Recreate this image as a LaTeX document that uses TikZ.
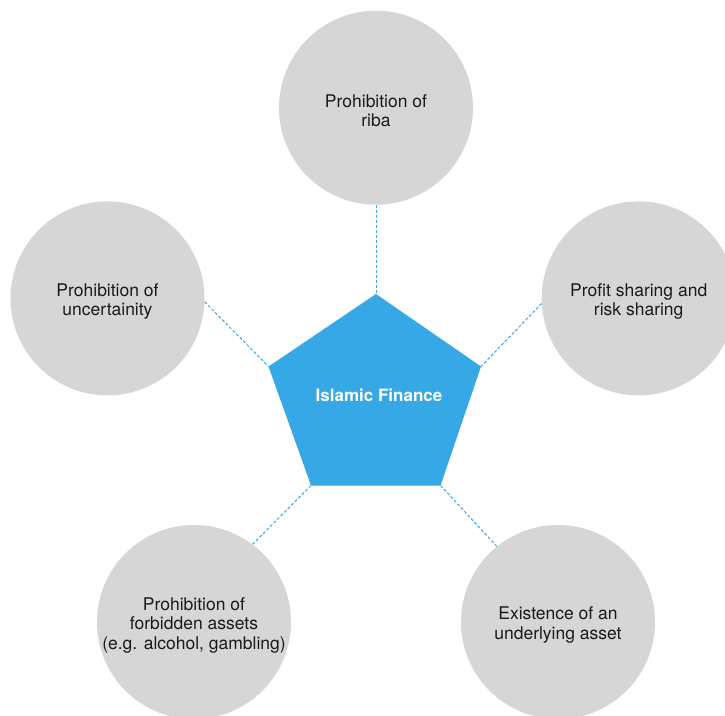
\documentclass[tikz,border=0pt]{standalone}
\usepackage{fontspec}
\setmainfont{TeX Gyre Heros}
\definecolor{ifblue}{HTML}{37A8E6}
\definecolor{ifgrey}{HTML}{D6D6D6}
\definecolor{iftext}{HTML}{1A1A1A}
\begin{document}
\begin{tikzpicture}[x=1pt,y=-1pt,
  pillar/.style={circle, fill=ifgrey, minimum size=194pt, inner sep=0pt},
  pillartext/.style={align=center, inner sep=0pt, yshift=-3pt,
    font=\fontsize{17.5}{19.5}\selectfont, text=iftext},
  link/.style={draw=ifblue, line width=1pt, dash pattern=on 3pt off 2pt},
  coretext/.style={text=white, font=\bfseries\fontsize{17}{20}\selectfont, inner sep=0pt}]
\useasboundingbox (0,0) rectangle (725,715);
\clip (0,0) rectangle (725,715);
\fill[white] (0,0) rectangle (725,715);
% circles
\node[pillar] (T)  at (376,107.7) {};
\node[pillar] (L)  at (107.5,298.4) {};
\node[pillar] (R)  at (638.7,298.4) {};
\node[pillar] (BL) at (194,622) {};
\node[pillar] (BR) at (558,622) {};
\node[pillartext] (Tt)  at (T.center)  {Prohibition of\\riba};
\node[pillartext] (Lt)  at (L.center)  {Prohibition of\\uncertainity};
\node[pillartext] (Rt)  at (R.center)  {Profit sharing and\\risk sharing};
\node[pillartext] (BLt) at (BL.center) {Prohibition of\\forbidden assets\\(e.g. alcohol, gambling)};
\node[pillartext] (BRt) at (BR.center) {Existence of an\\underlying asset};
% pentagon vertices
\coordinate (pT)  at (376,294);
\coordinate (pUL) at (268.5,366.5);
\coordinate (pUR) at (481,366.5);
\coordinate (pLL) at (311,485.5);
\coordinate (pLR) at (440.5,485.5);
% connectors
\draw[link] (T.south) -- (pT);
\draw[link] (L.-2) -- (pUL);
\draw[link] (R.183) -- (pUR);
\draw[link] (BL.53) -- (pLL);
\draw[link] (BR.129) -- (pLR);
% pentagon
\fill[ifblue] (pT) -- (pUR) -- (pLR) -- (pLL) -- (pUL) -- cycle;
\node[coretext] (core) at (379,395.5) {Islamic Finance};
\end{tikzpicture}
\end{document}
